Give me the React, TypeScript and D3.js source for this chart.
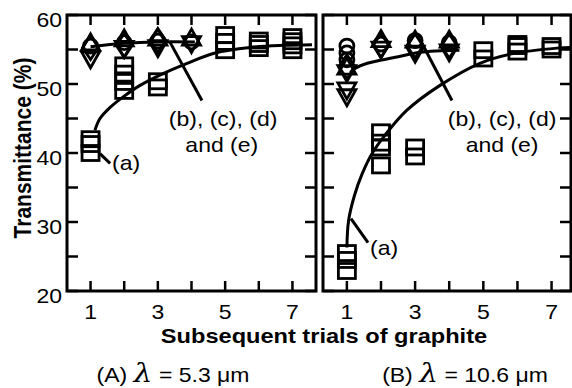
import React from 'react';
import * as d3 from 'd3';

const W = 572;
const H = 388;
const SANS = "'Liberation Sans', Arial, Helvetica, sans-serif";

const yTicks = [20, 25, 30, 35, 40, 45, 50, 55, 60];
const yLabels = [20, 30, 40, 50, 60];
const xTicks = [1, 2, 3, 4, 5, 6, 7];
const xLabels = [1, 3, 5, 7];

type Pt = [number, number];

// (A) lambda = 5.3 um
const squaresA: Pt[] = [
  [1, 40], [1, 41.3], [1, 42],
  [2, 49], [2, 50.3], [2, 51.5], [2, 52.7],
  [3, 49.5], [3, 50.4],
  [5, 54.9], [5, 56.1], [5, 57.1],
  [6, 55.2], [6, 55.8], [6, 56.3],
  [7, 54.9], [7, 55.6], [7, 56.2], [7, 56.8],
];
const circlesA: Pt[] = [[1, 55.5], [2, 56], [3, 56.2], [4, 56.1]];
const diamondsA: Pt[] = [[1, 55.3], [2, 55.6], [3, 56.3]];
const triUpA: Pt[] = [[1, 55.8], [2, 56.4], [3, 56.5], [4, 56.5]];
const triDownA: Pt[] = [[1, 53.8], [2, 55.3], [3, 55.4], [4, 56.0]];
const fitAa: Pt[] = [
  [1.13, 43.3], [1.28, 45.0], [1.58, 46.6], [1.96, 48.1], [2.47, 49.8], [3.06, 51.3],
  [3.87, 53.0], [4.7, 54.5], [5.74, 55.3], [6.72, 55.6], [7.58, 55.7],
];
const fitAbe: Pt[] = [[1, 55.4], [2, 55.9], [3, 56.1], [4.1, 56.1]];

// (B) lambda = 10.6 um
const squaresB: Pt[] = [
  [1, 22.9], [1, 24.5], [1, 25.5],
  [2, 38.2], [2, 40.8], [2, 41.5], [2, 43],
  [3, 39.5], [3, 40.8],
  [5, 53.7], [5, 54.9],
  [6, 54.7], [6, 55.5], [6, 55.8],
  [7, 55.0], [7, 55.5],
];
const circlesB: Pt[] = [[1, 55.5], [1, 54.5], [1, 53.5], [2, 55.8], [3, 56.3], [4, 56]];
const diamondsB: Pt[] = [[1, 52.5], [2, 55.6], [3, 55.5], [4, 55.5]];
const triUpB: Pt[] = [[1, 52.3], [2, 56.3], [3, 56.2], [4, 56.2]];
const triDownB: Pt[] = [[1, 51.8], [1, 49.3], [1, 48.3], [2, 55.2], [3, 54.6], [4, 54.8]];
const fitBa: Pt[] = [
  [1.0, 26.3], [1.05, 30.2], [1.22, 33.8], [1.45, 37.0], [1.76, 40.1], [2.12, 42.6],
  [2.76, 46.2], [3.73, 49.8], [4.9, 53.0], [5.87, 54.4], [7.16, 55.2], [7.57, 55.3],
];
const fitBbe: Pt[] = [[1.1, 51.7], [1.25, 52.3], [1.6, 53.0], [2.47, 53.9], [3.14, 54.6], [4.3, 54.9]];

const panels = [
  {
    key: 'A', left: 67, right: 316, domain: [0.3, 7.7],
    squares: squaresA, circles: circlesA, diamonds: diamondsA, triUp: triUpA, triDown: triDownA,
    fitA: fitAa, fitBE: fitAbe,
    leaderBE: [[3.36, 56.07], [4.31, 47.6]] as Pt[],
    leaderA: [[1.28, 39.9], [1.58, 38.5]] as Pt[],
    labelBE: [4.94, 43.85] as Pt, labelE: [4.9, 40.2] as Pt, labelA: [1.64, 37.6] as Pt,
    yLabels: true,
  },
  {
    key: 'B', left: 323, right: 571, domain: [0.3, 7.57],
    squares: squaresB, circles: circlesB, diamonds: diamondsB, triUp: triUpB, triDown: triDownB,
    fitA: fitBa, fitBE: fitBbe,
    leaderBE: [[3.2, 55.9], [4.08, 47.6]] as Pt[],
    leaderA: [[1.12, 30.5], [1.62, 27.0]] as Pt[],
    labelBE: [5.55, 43.85] as Pt, labelE: [5.55, 40.2] as Pt, labelA: [1.68, 25.2] as Pt,
    yLabels: false,
  },
];

const top = 15;
const bottom = 291;

// the scanned figure is a bit wider than tall, so text gets stretched sideways
function Txt({ x, y, anchor = 'start', sx = 1.15, size = 20, bold = false, children }: any) {
  return (
    <text
      transform={`translate(${x},${y}) scale(${sx},1)`}
      textAnchor={anchor}
      fontFamily={SANS}
      fontSize={size}
      fontWeight={bold ? 'bold' : 'normal'}
      fill="#000"
    >
      {children}
    </text>
  );
}

function Panel({ p }: { p: (typeof panels)[number] }) {
  const x = d3.scaleLinear().domain(p.domain).range([p.left, p.right]);
  const y = d3.scaleLinear().domain([20, 60]).range([bottom, top]);
  const line = d3.line<Pt>().x(d => x(d[0])).y(d => y(d[1])).curve(d3.curveCatmullRom.alpha(0.5));
  const straight = d3.line<Pt>().x(d => x(d[0])).y(d => y(d[1]));
  const mk = { fill: 'none', stroke: '#000', strokeWidth: 2.8 };
  return (
    <g>
      {p.squares.map((d, i) => (
        <rect key={'s' + i} x={x(d[0]) - 8.5} y={y(d[1]) - 7.5} width={17} height={15} {...mk} />
      ))}
      {p.circles.map((d, i) => (
        <circle key={'c' + i} cx={x(d[0])} cy={y(d[1])} r={7} {...mk} />
      ))}
      {p.diamonds.map((d, i) => (
        <path key={'d' + i} transform={`translate(${x(d[0])},${y(d[1])})`} d="M0,-12L8,0L0,12L-8,0Z" {...mk} />
      ))}
      {p.triUp.map((d, i) => (
        <path key={'u' + i} transform={`translate(${x(d[0])},${y(d[1])})`} d="M0,-10L9,6L-9,6Z" {...mk} />
      ))}
      {p.triDown.map((d, i) => (
        <path key={'v' + i} transform={`translate(${x(d[0])},${y(d[1])})`} d="M0,10L9,-6L-9,-6Z" {...mk} />
      ))}
      <path d={line(p.fitA) || ''} fill="none" stroke="#000" strokeWidth={3} />
      <path d={line(p.fitBE) || ''} fill="none" stroke="#000" strokeWidth={3} />
      <path d={straight(p.leaderBE) || ''} fill="none" stroke="#000" strokeWidth={3} />
      <path d={straight(p.leaderA) || ''} fill="none" stroke="#000" strokeWidth={3} />
      <Txt x={x(p.labelBE[0])} y={y(p.labelBE[1])} anchor="middle">(b), (c), (d)</Txt>
      <Txt x={x(p.labelE[0])} y={y(p.labelE[1])} anchor="middle">and (e)</Txt>
      <Txt x={x(p.labelA[0])} y={y(p.labelA[1])}>(a)</Txt>

      <rect x={p.left} y={top} width={p.right - p.left} height={bottom - top} fill="none" stroke="#000" strokeWidth={3} />
      {xTicks.map(t => (
        <g key={'xt' + t} stroke="#000" strokeWidth={2.5}>
          <line x1={x(t)} x2={x(t)} y1={bottom} y2={bottom - 10} />
          <line x1={x(t)} x2={x(t)} y1={top} y2={top + 10} />
        </g>
      ))}
      {yTicks.map(t => (
        <g key={'yt' + t} stroke="#000" strokeWidth={2.5}>
          <line x1={p.left} x2={p.left + 11} y1={y(t)} y2={y(t)} />
          <line x1={p.right} x2={p.right - 11} y1={y(t)} y2={y(t)} />
        </g>
      ))}
      {xLabels.map(t => (
        <Txt key={'xl' + t} x={x(t)} y={319} anchor="middle">{t}</Txt>
      ))}
      {p.yLabels && yLabels.map(t => (
        <Txt key={'yl' + t} x={62} y={y(t) + 12} anchor="end">{t}</Txt>
      ))}
    </g>
  );
}

export default function App() {
  return (
    <svg width={W} height={H} style={{ position: 'absolute', left: 0, top: 0, background: '#fff' }}>
      <rect width={W} height={H} fill="#fff" />
      {panels.map(p => <Panel key={p.key} p={p} />)}
      <text
        transform="translate(31,148) rotate(-90) scale(1,1.1)"
        textAnchor="middle"
        fontFamily={SANS}
        fontWeight="bold"
        fontSize={21}
      >
        Transmittance (%)
      </text>
      <Txt x={324} y={343} anchor="middle" bold sx={1.18}>Subsequent trials of graphite</Txt>
      <Txt x={173} y={382} anchor="middle">
        (A) <tspan fontFamily="'DejaVu Serif', serif" fontStyle="italic" fontSize={26}>λ</tspan> = 5.3 μm
      </Txt>
      <Txt x={465} y={382} anchor="middle">
        (B) <tspan fontFamily="'DejaVu Serif', serif" fontStyle="italic" fontSize={26}>λ</tspan> = 10.6 μm
      </Txt>
    </svg>
  );
}
